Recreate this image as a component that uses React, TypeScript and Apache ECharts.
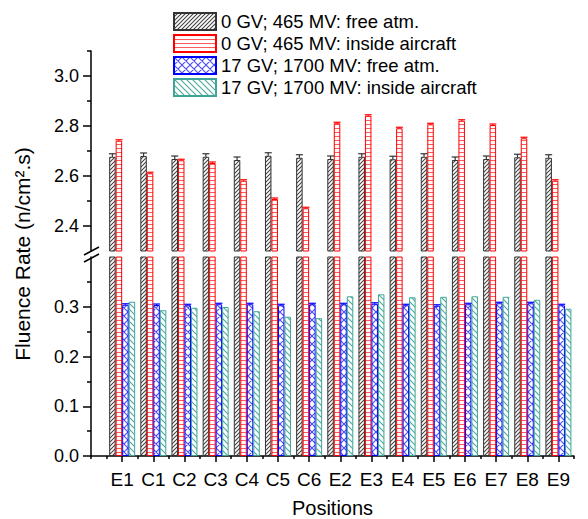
import React, { useEffect, useRef } from 'react';
import * as echarts from 'echarts';

const categories = ['E1', 'C1', 'C2', 'C3', 'C4', 'C5', 'C6', 'E2', 'E3', 'E4', 'E5', 'E6', 'E7', 'E8', 'E9'];
const seriesNames = [
  '0 GV; 465 MV: free atm.',
  '0 GV; 465 MV: inside aircraft',
  '17 GV; 1700 MV: free atm.',
  '17 GV; 1700 MV: inside aircraft',
];
const freeAtm0 = [2.677, 2.68, 2.668, 2.677, 2.664, 2.681, 2.673, 2.668, 2.677, 2.667, 2.677, 2.664, 2.668, 2.675, 2.673];
const freeAtm0Err = [0.012, 0.012, 0.012, 0.012, 0.012, 0.012, 0.012, 0.012, 0.012, 0.012, 0.012, 0.012, 0.012, 0.012, 0.012];
const inside0 = [2.741, 2.611, 2.663, 2.652, 2.581, 2.508, 2.471, 2.811, 2.841, 2.791, 2.807, 2.821, 2.804, 2.751, 2.581];
const inside0Err = [0.004, 0.004, 0.004, 0.004, 0.004, 0.004, 0.004, 0.004, 0.004, 0.004, 0.004, 0.004, 0.004, 0.004, 0.004];
const free17 = [0.304, 0.3035, 0.303, 0.305, 0.305, 0.303, 0.305, 0.305, 0.306, 0.303, 0.302, 0.305, 0.307, 0.307, 0.303];
const free17Err = [0.002, 0.002, 0.002, 0.002, 0.002, 0.002, 0.002, 0.002, 0.002, 0.002, 0.002, 0.002, 0.002, 0.002, 0.002];
const inside17 = [0.31, 0.293, 0.298, 0.2995, 0.291, 0.28, 0.277, 0.321, 0.325, 0.319, 0.32, 0.321, 0.32, 0.314, 0.296];

const upperMajorTicks = [2.4, 2.6, 2.8, 3.0];
const upperMinorTicks = [2.5, 2.7, 2.9, 3.1];
const lowerMajorTicks = [0.0, 0.1, 0.2, 0.3];
const lowerMinorTicks = [0.05, 0.15, 0.25, 0.35];

const FONT = '"Liberation Sans", Arial, sans-serif';
const borderColors = ['#333333', '#ff0000', '#0000ff', '#3fa596'];
const hatchColors = ['#444444', '#ff5a5a', '#4a4aff', '#4aa99c'];
const BAR_W = 6.5;

function makePattern(kind: string, color: string, size: number) {
  const c = document.createElement('canvas');
  c.width = size;
  c.height = size;
  const ctx = c.getContext('2d')!;
  ctx.fillStyle = '#ffffff';
  ctx.fillRect(0, 0, size, size);
  ctx.strokeStyle = color;
  ctx.lineWidth = 1.1;
  ctx.beginPath();
  const s = size;
  if (kind === 'slash' || kind === 'cross') {
    ctx.moveTo(-1, 1); ctx.lineTo(1, -1);
    ctx.moveTo(0, s); ctx.lineTo(s, 0);
    ctx.moveTo(s - 1, s + 1); ctx.lineTo(s + 1, s - 1);
  }
  if (kind === 'back' || kind === 'cross') {
    ctx.moveTo(0, 0); ctx.lineTo(s, s);
    ctx.moveTo(s - 1, -1); ctx.lineTo(s + 1, 1);
    ctx.moveTo(-1, s - 1); ctx.lineTo(1, s + 1);
  }
  if (kind === 'horiz') {
    ctx.moveTo(0, 0.5); ctx.lineTo(s, 0.5);
  }
  ctx.stroke();
  return { image: c.toDataURL(), repeat: 'repeat', imageWidth: s, imageHeight: s };
}

export default function App() {
  const ref = useRef<HTMLDivElement>(null);
  useEffect(() => {
    document.body.style.margin = '0';
    const chart = echarts.init(ref.current!, null, { renderer: 'svg' });
    const patterns = [
      makePattern('slash', hatchColors[0], 4),
      makePattern('horiz', hatchColors[1], 4),
      makePattern('cross', hatchColors[2], 8),
      makePattern('back', hatchColors[3], 6),
    ];
    const allData = [freeAtm0, inside0, free17, inside17];

    const bar = (i: number, grid: number) => ({
      type: 'bar',
      name: seriesNames[i],
      xAxisIndex: grid,
      yAxisIndex: grid === 0 ? 0 : 2,
      data: allData[i].map((v, k) => [k + 1, v]),
      barWidth: BAR_W,
      barGap: '0%',
      clip: true,
      itemStyle: { color: patterns[i], borderColor: borderColors[i], borderWidth: 1 },
      emphasis: { disabled: true },
      silent: true,
    });

    const err = (i: number, vals: number[], errs: number[], grid: number) => ({
      type: 'custom',
      xAxisIndex: grid,
      yAxisIndex: grid === 0 ? 0 : 2,
      data: vals.map((v, k) => [k + 1, v, errs[k]]),
      silent: true,
      z: 10,
      clip: true,
      renderItem: (params: any, api: any) => {
        const x = api.value(0);
        const v = api.value(1);
        const e = api.value(2);
        const top = api.coord([x, v + e]);
        const base = api.coord([x, v]);
        const cx = top[0] + (i - 1.5) * BAR_W;
        const style = { stroke: borderColors[i], lineWidth: 1.2 };
        return {
          type: 'group',
          children: [
            { type: 'line', shape: { x1: cx, y1: base[1], x2: cx, y2: top[1] }, style },
            { type: 'line', shape: { x1: cx - 3.5, y1: top[1], x2: cx + 3.5, y2: top[1] }, style },
          ],
        };
      },
    });

    const catPositions = categories.map((_, k) => k + 1);
    const minorX = [0, 0.5, ...categories.map((_, k) => k + 1.5)];
    const axisLineStyle = { color: '#000', width: 1.5 };
    const labelStyle = { fontSize: 18, color: '#000', fontFamily: FONT };

    chart.setOption({
      animation: false,
      legend: {
        data: seriesNames,
        orient: 'vertical',
        left: 168,
        top: 7,
        itemWidth: 42,
        itemHeight: 17,
        itemGap: 3,
        icon: 'rect',
        selectedMode: false,
        textStyle: { fontSize: 18.5, color: '#000', fontFamily: FONT },
      },
      grid: [
        { left: 91, right: 14, top: 51, height: 200 },
        { left: 91, right: 14, top: 257, height: 199 },
      ],
      xAxis: [
        { type: 'value', gridIndex: 0, min: 0, max: 15.5, show: false },
        {
          type: 'value', gridIndex: 1, min: 0, max: 15.5, position: 'bottom',
          axisLine: { show: true, onZero: false, lineStyle: axisLineStyle },
          axisTick: { show: true, length: 6, customValues: catPositions, lineStyle: axisLineStyle },
          axisLabel: {
            ...labelStyle, fontSize: 19, margin: 14, customValues: catPositions,
            formatter: (v: number) => categories[Math.round(v) - 1] ?? '',
          },
          splitLine: { show: false },
          name: 'Positions', nameLocation: 'middle', nameGap: 42,
          nameTextStyle: { fontSize: 20, color: '#000', fontFamily: FONT },
        },
        {
          type: 'value', gridIndex: 1, min: 0, max: 15.5, position: 'bottom',
          axisLine: { show: false },
          axisTick: { show: true, length: 3, customValues: minorX, lineStyle: axisLineStyle },
          axisLabel: { show: false },
          splitLine: { show: false },
        },
      ],
      yAxis: [
        {
          type: 'value', gridIndex: 0, min: 2.3, max: 3.1, position: 'left',
          axisLine: { show: true, onZero: false, lineStyle: axisLineStyle },
          axisTick: { show: true, length: 8, customValues: upperMajorTicks, lineStyle: axisLineStyle },
          axisLabel: { ...labelStyle, margin: 12, customValues: upperMajorTicks, formatter: (v: number) => v.toFixed(1) },
          splitLine: { show: false },
        },
        {
          type: 'value', gridIndex: 0, min: 2.3, max: 3.1, position: 'left',
          axisLine: { show: false },
          axisTick: { show: true, length: 4, customValues: upperMinorTicks, lineStyle: axisLineStyle },
          axisLabel: { show: false },
          splitLine: { show: false },
        },
        {
          type: 'value', gridIndex: 1, min: 0, max: 0.4, position: 'left',
          axisLine: { show: true, onZero: false, lineStyle: axisLineStyle },
          axisTick: { show: true, length: 8, customValues: lowerMajorTicks, lineStyle: axisLineStyle },
          axisLabel: { ...labelStyle, margin: 12, customValues: lowerMajorTicks, formatter: (v: number) => v.toFixed(1) },
          splitLine: { show: false },
        },
        {
          type: 'value', gridIndex: 1, min: 0, max: 0.4, position: 'left',
          axisLine: { show: false },
          axisTick: { show: true, length: 4, customValues: lowerMinorTicks, lineStyle: axisLineStyle },
          axisLabel: { show: false },
          splitLine: { show: false },
        },
      ],
      graphic: [
        {
          type: 'text', x: 22, y: 254, rotation: Math.PI / 2,
          style: {
            text: 'Fluence Rate (n/cm².s)', fontSize: 21, fontFamily: FONT, fill: '#000',
            align: 'center', verticalAlign: 'middle',
          },
        },
        { type: 'line', shape: { x1: 84, y1: 255, x2: 99, y2: 247 }, style: { stroke: '#000', lineWidth: 1.5 } },
        { type: 'line', shape: { x1: 84, y1: 262, x2: 99, y2: 254 }, style: { stroke: '#000', lineWidth: 1.5 } },
      ],
      series: [
        bar(0, 0), bar(1, 0), bar(2, 0), bar(3, 0),
        bar(0, 1), bar(1, 1), bar(2, 1), bar(3, 1),
        err(0, freeAtm0, freeAtm0Err, 0),
        err(1, inside0, inside0Err, 0),
        err(2, free17, free17Err, 1),
      ],
    });
    return () => chart.dispose();
  }, []);
  return <div ref={ref} style={{ width: 588, height: 519 }} />;
}
